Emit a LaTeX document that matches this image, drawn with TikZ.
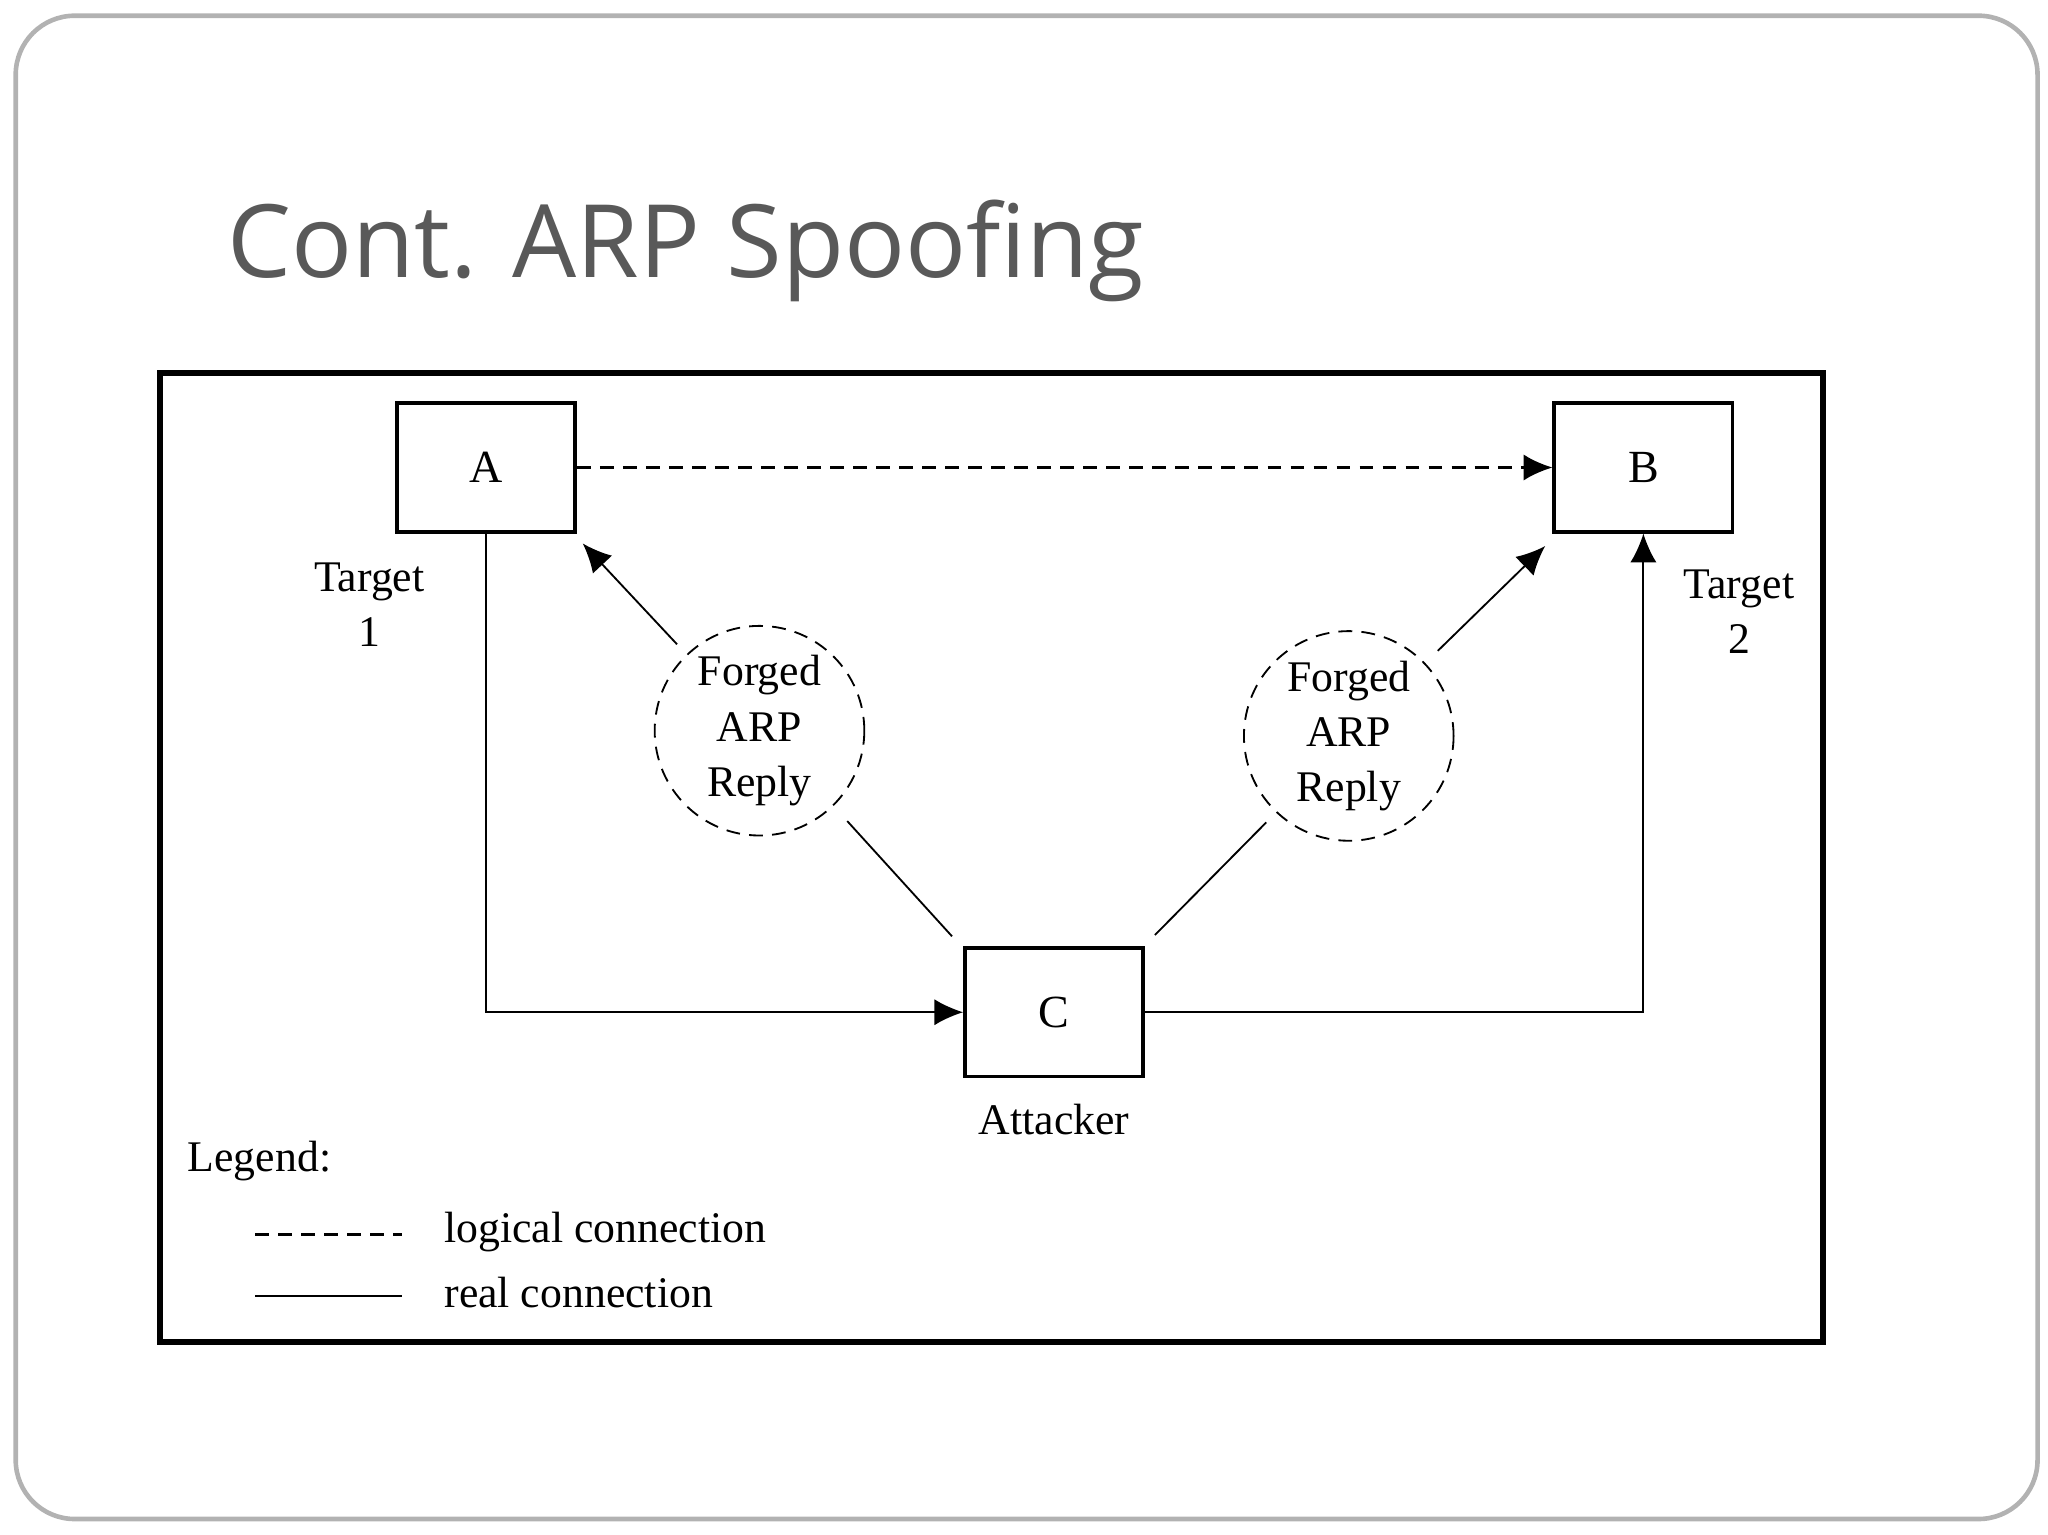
\documentclass[tikz,border=0pt]{standalone}
\usepackage{fontspec}
\setmainfont{Liberation Serif}
\newfontfamily\titlefont{Open Sans}
\usetikzlibrary{arrows.meta}
\begin{document}
\begin{tikzpicture}[x=0.01cm,y=-0.01cm,
  box/.style={draw,thick,minimum width=1.36cm,minimum height=0.98cm,inner sep=0pt,font=\fontsize{10}{12}\selectfont},
  bubble/.style={draw,densely dashed,circle,minimum size=1.6cm,inner sep=0pt,align=center,font=\fontsize{9.5}{12}\selectfont},
  lbl/.style={align=center,font=\fontsize{9.5}{12}\selectfont},
  conn/.style={-{Latex[length=2.2mm,width=2mm]}},
  ldash/.style={semithick,dash pattern=on 3pt off 2pt}]
\useasboundingbox (0,0) rectangle (1564,1172);
\draw[gray!60,line width=1pt,rounded corners=0.45cm] (12,12) rectangle (1556,1160);
\node[anchor=base west,text=black!65,font=\titlefont\fontsize{22}{26}\selectfont,inner sep=0pt] (title) at (173,212) {Cont. ARP Spoofing};
\draw[line width=1.4pt] (122,285) rectangle (1392,1025);
\node[box] (A) at (371,357) {A};
\node[box] (B) at (1255,357) {B};
\node[box] (C) at (805,773) {C};
\node[bubble] (F1) at (580,558) {Forged\\ARP\\Reply};
\node[bubble] (F2) at (1030,562) {Forged\\ARP\\Reply};
\node[lbl] (t1) at (282,462) {Target\\1};
\node[lbl] (t2) at (1328,467) {Target\\2};
\node[lbl] (att) at (805,855) {Attacker};
\draw[conn,ldash] (A.east) -- (B.west);
\draw[conn] (A.south) |- (C.west);
\draw[conn] (C.east) -| (B.south);
\coordinate (a1) at (517,492); \coordinate (a2) at (445,415);
\draw[conn] (a1) -- (a2);
\coordinate (b1) at (1098,497); \coordinate (b2) at (1180,417);
\draw[conn] (b1) -- (b2);
\coordinate (c1) at (647,627); \coordinate (c2) at (727,715);
\draw (c1) -- (c2);
\coordinate (d1) at (967,628); \coordinate (d2) at (882,714);
\draw (d1) -- (d2);
\node[lbl,anchor=west] (leg) at (131,887) {Legend:};
\coordinate (l1) at (195,943); \coordinate (l2) at (307,943);
\draw[ldash] (l1) -- (l2);
\coordinate (l3) at (195,990); \coordinate (l4) at (307,990);
\draw (l3) -- (l4);
\node[lbl,anchor=west] (lg1) at (327,941) {logical connection};
\node[lbl,anchor=west] (lg2) at (327,987) {real connection};
\end{tikzpicture}
\end{document}
